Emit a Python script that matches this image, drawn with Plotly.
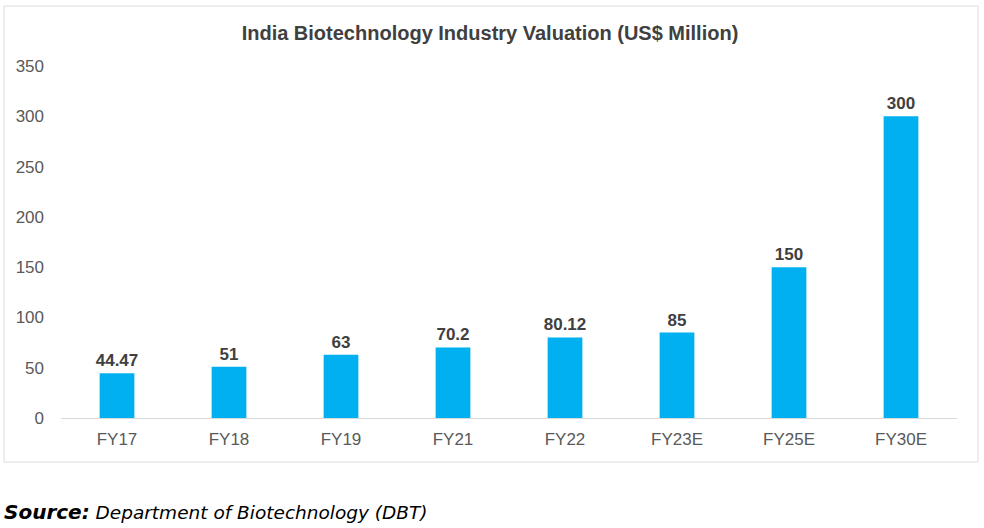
import plotly.graph_objects as go

categories = ["FY17", "FY18", "FY19", "FY21", "FY22", "FY23E", "FY25E", "FY30E"]
values = [44.47, 51, 63, 70.2, 80.12, 85, 150, 300]
value_labels = ["44.47", "51", "63", "70.2", "80.12", "85", "150", "300"]
y_ticks = [0, 50, 100, 150, 200, 250, 300, 350]

W, H = 984, 528
ml, mr, mt, mb = 61, 27, 66, 110
pw, ph = W - ml - mr, H - mt - mb

def px_x(x):
    return (x - ml) / pw

def px_y(y):
    return (H - mb - y) / ph

fig = go.Figure(go.Bar(
    x=categories, y=values, text=value_labels, textposition="outside",
    constraintext="none",
    marker=dict(color="#00B0F0", line=dict(width=0)),
    width=0.31, cliponaxis=False,
    textfont=dict(family="Liberation Sans, Arial", size=17, color="#404040", weight="bold"),
))

fig.update_layout(
    width=W, height=H,
    margin=dict(l=ml, r=mr, t=mt, b=mb),
    paper_bgcolor="white", plot_bgcolor="white",
    showlegend=False,
    font=dict(family="Liberation Sans, Arial", color="#595959"),
    title=dict(
        text="<b>India Biotechnology Industry Valuation (US$ Million)</b>",
        x=490 / W, xanchor="center", y=1 - 33 / H, yanchor="middle",
        font=dict(family="Liberation Sans, Arial", size=20, color="#404040"),
    ),
    xaxis=dict(
        showgrid=False, showline=True, linecolor="#d9d9d9", linewidth=1,
        ticks="", ticklabelstandoff=6, tickfont=dict(size=17, color="#595959"),
    ),
    yaxis=dict(
        range=[0, 350], tickvals=y_ticks, showgrid=False, zeroline=False,
        showline=False, ticks="", ticklabelstandoff=16,
        tickfont=dict(size=17, color="#595959"),
    ),
    shapes=[dict(
        type="rect", xref="paper", yref="paper",
        x0=px_x(4), x1=px_x(978), y0=px_y(462), y1=px_y(6),
        line=dict(color="#dcdcdc", width=1), fillcolor="rgba(0,0,0,0)", layer="below",
    )],
    annotations=[dict(
        xref="paper", yref="paper", x=px_x(2), y=px_y(512),
        xanchor="left", yanchor="middle", showarrow=False,
        text="<b><i><span style='font-size:20px'>Source:</span></i></b><i> Department of Biotechnology (DBT)</i>",
        font=dict(family="DejaVu Sans", size=18.5, color="#000000"),
    )],
)

fig.write_html("out.html")
